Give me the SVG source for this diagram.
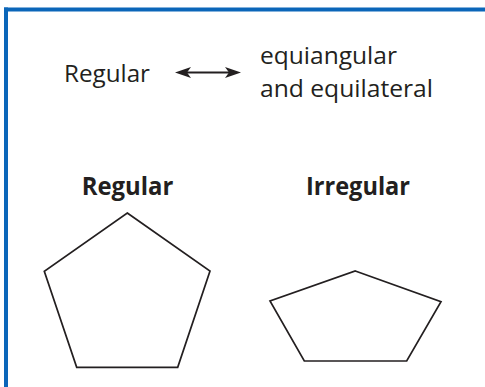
<svg xmlns="http://www.w3.org/2000/svg" width="485" height="387" viewBox="0 0 485 387">
<style>
.frame{fill:#0b66b9}
.t{font-family:"Open Sans","Liberation Sans",sans-serif;fill:#231f20}
.reg{font-size:24.5px;font-weight:500}
.bold{font-size:25.5px;font-weight:bold}
.shape{fill:none;stroke:#231f20;stroke-width:1.7;stroke-linejoin:miter}
.conn{stroke:#231f20;stroke-width:2;fill:none}
</style>
<defs>
<marker id="ah" markerUnits="userSpaceOnUse" viewBox="0 -6 16 12" refX="4" refY="0" markerWidth="16" markerHeight="12" orient="auto-start-reverse">
<path d="M0,-5.5 L16,0 L0,5.5 L4,0 Z" fill="#231f20"/>
</marker>
</defs>
<rect id="frame-left" class="frame" x="4" y="7.5" width="4" height="379.5"/>
<rect id="frame-top" class="frame" x="4" y="7.5" width="481" height="4"/>
<g id="node-regular-label">
<text class="t reg" x="64" y="81.5" textLength="86" lengthAdjust="spacingAndGlyphs">Regular</text>
</g>
<g id="node-definition">
<text class="t reg" x="260" y="63.5" textLength="137" lengthAdjust="spacingAndGlyphs">equiangular</text>
<text class="t reg" x="260" y="97" textLength="173" lengthAdjust="spacingAndGlyphs">and equilateral</text>
</g>
<g id="connectors">
<line class="conn" x1="187" y1="72.5" x2="229" y2="72.5" marker-start="url(#ah)" marker-end="url(#ah)"/>
</g>
<g id="node-regular-pentagon">
<text class="t bold" x="81.7" y="195" textLength="91.6" lengthAdjust="spacingAndGlyphs">Regular</text>
<polygon class="shape" points="127.3,213 210,271 177.7,367.3 76.7,367.3 44.3,271.3"/>
</g>
<g id="node-irregular-pentagon">
<text class="t bold" x="306" y="195" textLength="104" lengthAdjust="spacingAndGlyphs">Irregular</text>
<polygon class="shape" points="355.3,271 441,301.7 406.7,361 304.3,361 270,301"/>
</g>
</svg>
